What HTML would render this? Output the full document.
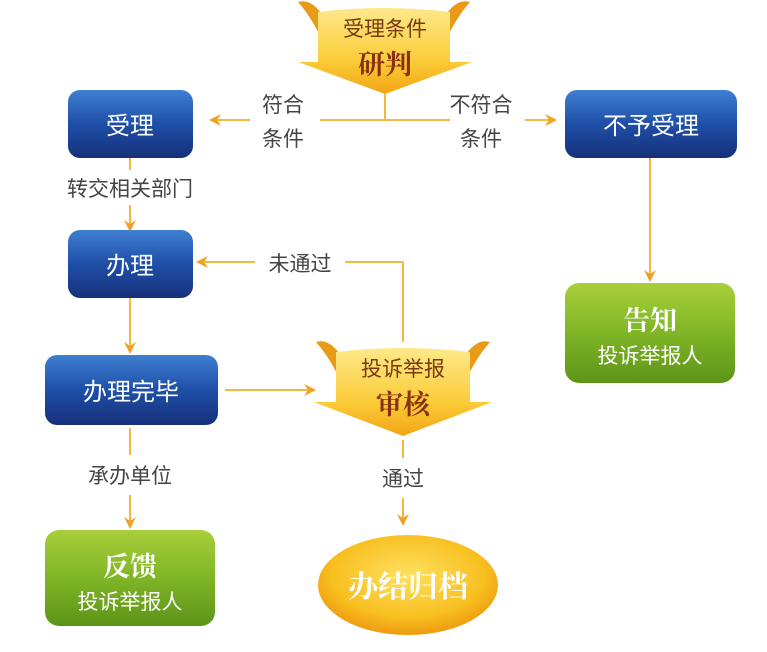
<!DOCTYPE html>
<html><head><meta charset="utf-8"><style>
html,body{margin:0;padding:0;background:#fff;}
svg{display:block}
text{font-family:"Liberation Sans","Noto Sans CJK SC",sans-serif;}
.serif{font-family:"Liberation Serif","Noto Serif CJK SC",serif;font-weight:bold;}
</style></head><body>
<svg width="767" height="652" viewBox="0 0 767 652">
<defs>
<linearGradient id="blue" x1="0" y1="0" x2="0" y2="1">
<stop offset="0" stop-color="#3f7fd0"/><stop offset="0.5" stop-color="#1f4fa8"/><stop offset="1" stop-color="#16307a"/></linearGradient>
<linearGradient id="green" x1="0" y1="0" x2="0" y2="1">
<stop offset="0" stop-color="#a8cf3a"/><stop offset="0.5" stop-color="#7fb526"/><stop offset="1" stop-color="#5e9418"/></linearGradient>
<linearGradient id="gold" x1="0" y1="0" x2="0" y2="1">
<stop offset="0" stop-color="#fde88a"/><stop offset="0.6" stop-color="#fbcd3a"/><stop offset="1" stop-color="#f2a514"/></linearGradient>
<radialGradient id="oval" cx="0.5" cy="0.4" r="0.6">
<stop offset="0" stop-color="#fde060"/><stop offset="0.7" stop-color="#f8c020"/><stop offset="1" stop-color="#ee9a10"/></radialGradient>
<marker id="ah" markerWidth="12" markerHeight="12" refX="8" refY="6" orient="auto" markerUnits="userSpaceOnUse">
<path d="M0,0 L12,6 L0,12 L4,6 Z" fill="#f2a020"/></marker>
</defs>
<g stroke="#f5b740" stroke-width="2" fill="none">
<line x1="385" y1="92" x2="385" y2="120"/>
<line x1="320" y1="120" x2="450" y2="120"/>
<line x1="250" y1="120" x2="213" y2="120" marker-end="url(#ah)"/>
<line x1="525" y1="120" x2="553" y2="120" marker-end="url(#ah)"/>
<line x1="130" y1="158" x2="130" y2="170"/>
<line x1="130" y1="205" x2="130" y2="228" marker-end="url(#ah)"/>
<line x1="130" y1="298" x2="130" y2="350" marker-end="url(#ah)"/>
<line x1="403" y1="342" x2="403" y2="262"/>
<line x1="403" y1="262" x2="345" y2="262"/>
<line x1="255" y1="262" x2="200" y2="262" marker-end="url(#ah)"/>
<line x1="225" y1="390" x2="312" y2="390" marker-end="url(#ah)"/>
<line x1="130" y1="428" x2="130" y2="455"/>
<line x1="130" y1="495" x2="130" y2="525" marker-end="url(#ah)"/>
<line x1="403" y1="440" x2="403" y2="458"/>
<line x1="403" y1="498" x2="403" y2="522" marker-end="url(#ah)"/>
<line x1="650" y1="158" x2="650" y2="278" marker-end="url(#ah)"/>
</g>
<g>
<path d="M298,2 Q310,-2 322,14 L322,40 Q312,18 298,2 Z" fill="#e89a18"/>
<path d="M470,2 Q458,-2 446,14 L446,40 Q456,18 470,2 Z" fill="#e89a18"/>
<path d="M318,12 Q384,4 450,12 L450,62 L472,62 L385,94 L298,62 L318,62 Z" fill="url(#gold)"/>
<text x="385" y="36" font-size="21" fill="#7a3a10" text-anchor="middle">受理条件</text>
<text x="385" y="74" font-size="27" fill="#8a3010" text-anchor="middle" class="serif">研判</text>
</g>
<g>
<path d="M316,342 Q328,338 340,354 L340,380 Q330,358 316,342 Z" fill="#e89a18"/>
<path d="M490,342 Q478,338 466,354 L466,380 Q476,358 490,342 Z" fill="#e89a18"/>
<path d="M336,352 Q403,344 470,352 L470,402 L492,402 L403,436 L314,402 L336,402 Z" fill="url(#gold)"/>
<text x="403" y="376" font-size="21" fill="#7a3a10" text-anchor="middle">投诉举报</text>
<text x="403" y="414" font-size="27" fill="#8a3010" text-anchor="middle" class="serif">审核</text>
</g>
<g font-size="21" fill="#444" text-anchor="middle">
<text><tspan x="283" y="112">符合</tspan><tspan x="283" y="146">条件</tspan></text>
<text><tspan x="481" y="112">不符合</tspan><tspan x="481" y="146">条件</tspan></text>
<text x="130" y="196">转交相关部门</text>
<text x="300" y="271">未通过</text>
<text x="130" y="483">承办单位</text>
<text x="403" y="486">通过</text>
</g>
<rect x="68" y="90" width="125" height="68" rx="12" fill="url(#blue)"/>
<text x="130" y="134" font-size="24" fill="#fff" text-anchor="middle">受理</text>
<rect x="565" y="90" width="172" height="68" rx="12" fill="url(#blue)"/>
<text x="651" y="134" font-size="24" fill="#fff" text-anchor="middle">不予受理</text>
<rect x="68" y="230" width="125" height="68" rx="12" fill="url(#blue)"/>
<text x="130" y="274" font-size="24" fill="#fff" text-anchor="middle">办理</text>
<rect x="45" y="355" width="173" height="70" rx="12" fill="url(#blue)"/>
<text x="131" y="400" font-size="24" fill="#fff" text-anchor="middle">办理完毕</text>
<rect x="565" y="283" width="170" height="100" rx="14" fill="url(#green)"/>
<text x="650" y="330" font-size="27" fill="#fff" text-anchor="middle" class="serif">告知</text>
<text x="650" y="363" font-size="21" fill="#fff" text-anchor="middle">投诉举报人</text>
<rect x="45" y="530" width="170" height="96" rx="14" fill="url(#green)"/>
<text x="130" y="576" font-size="27" fill="#fff" text-anchor="middle" class="serif">反馈</text>
<text x="130" y="609" font-size="21" fill="#fff" text-anchor="middle">投诉举报人</text>
<ellipse cx="408" cy="585" rx="90" ry="50" fill="url(#oval)"/>
<text x="408" y="597" font-size="30" fill="#fff" text-anchor="middle" class="serif">办结归档</text>
</svg>
</body></html>
